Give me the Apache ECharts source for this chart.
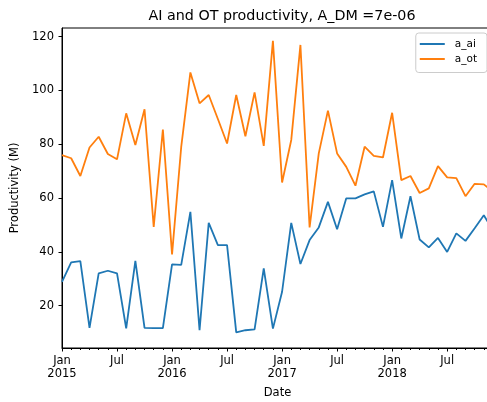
<!DOCTYPE html>
<html>
<head>
<meta charset="utf-8">
<script src="https://cdn.jsdelivr.net/npm/echarts@6/dist/echarts.min.js"></script>
<style>
  html, body { margin: 0; padding: 0; background: #fff; }
  #chart { width: 487px; height: 402px; }
</style>
</head>
<body>
<div id="chart"></div>
<script>
  // monthly values, Jan 2015 .. Dec 2018
  const aAi = [28.9, 36.1, 36.6, 11.8, 32.0, 33.0, 32.0, 11.6, 36.7, 11.8, 11.7, 11.7,
               35.4, 35.2, 54.9, 10.9, 50.8, 42.5, 42.5, 10.1, 10.9, 11.2, 33.9, 11.5,
               25.2, 50.8, 35.5, 44.4, 49.1, 58.6, 48.4, 59.9, 59.9, 61.4, 62.5, 49.3,
               66.7, 45.0, 60.7, 44.6, 41.7, 45.2, 40.0, 46.9, 44.1, 48.8, 53.6, 48.0];
  const aOt = [76.0, 74.8, 68.2, 78.8, 82.8, 76.4, 74.4, 91.5, 79.7, 93.0, 49.3, 85.5,
               39.1, 79.0, 106.7, 95.2, 98.3, 89.4, 80.3, 98.3, 83.0, 99.3, 79.4, 118.4,
               65.8, 81.6, 116.9, 49.1, 76.6, 92.5, 76.6, 71.6, 64.6, 79.1, 75.7, 75.1,
               91.7, 66.7, 68.2, 61.9, 63.6, 71.9, 67.7, 67.4, 60.7, 65.3, 65.1, 62.4];
  const startYear = 2015;
  const yTicks = [20, 40, 60, 80, 100, 120];

  const toPairs = arr => arr.map((v, i) => [i, v]);
  const font = 'DejaVu Sans';

  const chart = echarts.init(document.getElementById('chart'), null, { renderer: 'canvas' });
  chart.setOption({
    animation: false,
    title: {
      text: 'AI and OT productivity, A_DM =7e-06',
      left: 277, top: 4, textAlign: 'center',
      textStyle: { fontFamily: font, fontSize: 14.3, fontWeight: 'normal', color: '#000' }
    },
    legend: {
      right: 0, top: 33,
      orient: 'vertical',
      itemWidth: 25, itemHeight: 2, itemGap: 2,
      padding: [4.5, 10, 7, 4],
      borderColor: '#ccc', borderWidth: 1, borderRadius: 3,
      backgroundColor: 'rgba(255,255,255,0.8)',
      icon: 'rect',
      textStyle: { fontFamily: font, fontSize: 10.5, lineHeight: 13, color: '#000', padding: [0, 0, 0, 5] },
      data: ['a_ai', 'a_ot']
    },
    grid: {
      left: 62, top: 28, right: -6, bottom: 54,
      outerBoundsMode: 'none',
      show: true, borderColor: '#000', borderWidth: 1, backgroundColor: 'transparent'
    },
    xAxis: {
      type: 'value', min: 0, max: 47, interval: 6,
      name: 'Date', nameLocation: 'middle', nameGap: 39,
      nameTextStyle: { fontFamily: font, fontSize: 11.5, color: '#000' },
      axisLine: { show: true, lineStyle: { color: '#000', width: 1 } },
      axisTick: { show: true, length: 3.5, lineStyle: { color: '#000' } },
      minorTick: { show: true, splitNumber: 6, length: 2, lineStyle: { color: '#000' } },
      splitLine: { show: false },
      axisLabel: {
        fontFamily: font, fontSize: 11.5, color: '#000', margin: 7, lineHeight: 13,
        showMaxLabel: false,
        formatter: v => v % 12 === 0 ? 'Jan\n' + (startYear + v / 12) : (v % 12 === 6 ? 'Jul' : '')
      }
    },
    yAxis: {
      type: 'value', min: 4.3, max: 123.2,
      name: 'Productivity (M)', nameLocation: 'middle', nameGap: 38,
      nameTextStyle: { fontFamily: font, fontSize: 11.5, color: '#000' },
      axisLine: { show: true, lineStyle: { color: '#000', width: 1 } },
      axisTick: { show: true, length: 3.5, customValues: yTicks, lineStyle: { color: '#000' } },
      splitLine: { show: false },
      axisLabel: {
        customValues: yTicks,
        fontFamily: font, fontSize: 11.5, color: '#000', margin: 8
      }
    },
    series: [
      {
        name: 'a_ai', type: 'line', data: toPairs(aAi),
        showSymbol: false, clip: true, color: '#1f77b4',
        lineStyle: { width: 1.8 }
      },
      {
        name: 'a_ot', type: 'line', data: toPairs(aOt),
        showSymbol: false, clip: true, color: '#ff7f0e',
        lineStyle: { width: 1.8 }
      }
    ]
  });
</script>
</body>
</html>
